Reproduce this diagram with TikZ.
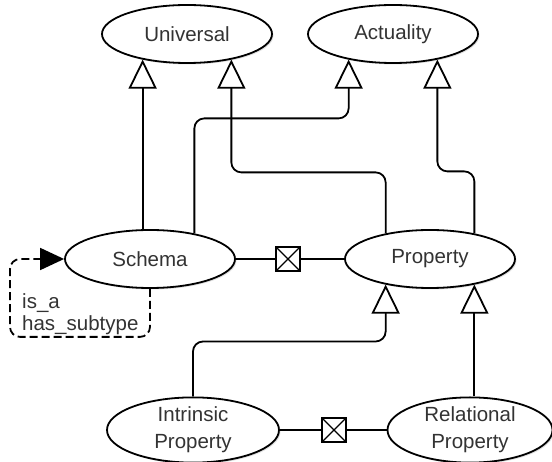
\documentclass[tikz,border=0pt]{standalone}
\usepackage{fontspec}
\setmainfont{Liberation Sans}
\usetikzlibrary{arrows.meta}
\usetikzlibrary{shapes.geometric}
\usetikzlibrary{shadows}

\begin{document}
\begin{tikzpicture}
    [x=1pt,y=-1pt,
    concept/.style={ellipse,draw=black,fill=white,line width=1.8pt,
      inner sep=0pt,minimum width=170pt,minimum height=58pt,
      text=black!80,font=\fontsize{20.5}{27}\selectfont,align=center,
      drop shadow={shadow xshift=1.5pt,shadow yshift=-1.5pt,opacity=0.25}},
    xbox/.style={rectangle,draw=black,fill=white,line width=1.8pt,
      inner sep=0pt,minimum size=24pt,
      path picture={\draw[line width=1.2pt]
        (path picture bounding box.north west) -- (path picture bounding box.south east)
        (path picture bounding box.north east) -- (path picture bounding box.south west);}},
    isa/.style={line width=1.8pt,rounded corners=10pt,
      -{Triangle[open,length=29pt,width=28pt]}},
    link/.style={line width=1.8pt},
    loop/.style={line width=1.8pt,dash pattern=on 8pt off 4pt,rounded corners=10pt,
      -{Triangle[length=24pt,width=22pt]}}]

    \useasboundingbox (0,0) rectangle (552,462);

    \node (universal)  at (187,34)  [concept] {Universal};

    \node (actuality)  at (393,34)  [concept] {Actuality};

    \node (schema)     at (150,259) [concept] {Schema};

    \node (property)   at (430,259) [concept] {Property};

    \node (intrinsic)  at (193,430) [concept,minimum width=172pt,minimum height=62pt] {Intrinsic\\Property};

    \node (relational) at (470,430) [concept,minimum width=165pt,minimum height=60pt] {Relational\\Property};

    \node (has prop)   at (288,259) [xbox] {};

    \node (relates)    at (334,430) [xbox] {};

    \node (loop label) at (22,314) [anchor=west,align=left,inner sep=0pt,text=black!80,
      font=\fontsize{20.5}{22}\selectfont] {is\_a\\has\_subtype};

    % generalisations
    \draw[isa] (schema.north -| universal.210) -- (universal.210);
    \draw[isa] (schema.30) -- ++(0,-115) -| (actuality.210);
    \draw[isa] (property.150) -- ++(0,-61) -| (universal.330);
    \draw[isa] (property.30) -- ++(0,-62) -| (actuality.330);
    \draw[isa] (intrinsic.north) -- ++(0,-55) -| (property.210);
    \draw[isa] (relational.north -| property.330) -- (property.330);

    % associations
    \draw[link] (schema.east) -- (has prop.west);
    \draw[link] (has prop.east) -- (property.west);
    \draw[link] (intrinsic.east) -- (relates.west);
    \draw[link] (relates.east) -- (relational.west);

    % self loop
    \draw[loop] (schema.south) -- ++(0,48) -- ++(-140,0) |- (schema.west);

  \end{tikzpicture}
\end{document}
